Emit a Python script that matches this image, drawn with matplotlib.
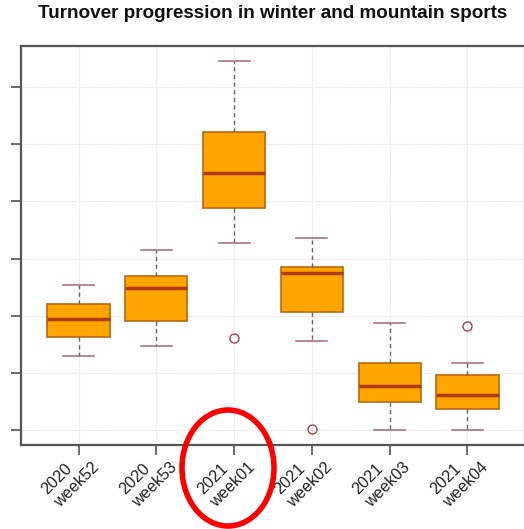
import matplotlib
matplotlib.use("Agg")
import matplotlib.pyplot as plt
from matplotlib.patches import Ellipse

categories = ["2020\nweek52", "2020\nweek53", "2021\nweek01", "2021\nweek02", "2021\nweek03", "2021\nweek04"]
whisker_low = [1.29, 1.47, 3.27, 1.56, 0.01, 0.00]
q1 = [1.63, 1.91, 3.88, 2.06, 0.50, 0.37]
median = [1.94, 2.48, 4.49, 2.75, 0.78, 0.61]
q3 = [2.20, 2.69, 5.22, 2.85, 1.18, 0.97]
whisker_high = [2.54, 3.15, 6.46, 3.36, 1.88, 1.17]
outliers = [[], [], [1.61], [0.02], [], [1.82]]
y_ticks = [0, 1, 2, 3, 4, 5, 6]

plt.rcParams['font.family'] = ['Liberation Sans', 'DejaVu Sans']

fig = plt.figure(figsize=(5.24, 5.29), dpi=100)
ax = fig.add_axes([21/524, 1-445/529, (525-21)/524, (445-46)/529])

stats = []
for i, lab in enumerate(categories):
    stats.append(dict(label=lab, med=median[i], q1=q1[i], q3=q3[i],
                      whislo=whisker_low[i], whishi=whisker_high[i], fliers=outliers[i]))

positions = list(range(1, len(categories) + 1))

# grid first (under boxes)
for p in positions:
    ax.axvline(p, color='#e6e6e6', lw=0.8, linestyle=(0, (1.5, 1.0)), zorder=0)
for t in y_ticks:
    ax.axhline(t, color='#e6e6e6', lw=0.8, linestyle=(0, (1.5, 1.0)), zorder=0)

ax.bxp(stats, positions=positions, widths=0.8, capwidths=0.4, patch_artist=True,
       boxprops=dict(facecolor='#ffa500', edgecolor='#b86a10', lw=1.2),
       medianprops=dict(color='#b03a00', lw=2.5),
       whiskerprops=dict(color='#7a5a66', lw=1.0, linestyle=(0, (3, 2.5))),
       capprops=dict(color='#a06878', lw=1.1),
       flierprops=dict(marker='o', markerfacecolor='none', markeredgecolor='#9a4a4a',
                       markersize=6.5, markeredgewidth=1.0))

lo = min(min(whisker_low), min(min(o) for o in outliers if o))
hi = max(max(whisker_high), max(max(o) for o in outliers if o))
pad = (hi - lo) * 0.04
ax.set_ylim(lo - pad, hi + pad)
ax.set_xlim(0.26, len(categories) + 0.74)

ax.set_yticks(y_ticks)
ax.set_yticklabels([])
ax.set_xticks(positions)
ax.set_xticklabels(categories, rotation=45, ha='right', va='top', rotation_mode='anchor',
                   multialignment='left', fontsize=11.7, color='#222222', linespacing=1.25)
ax.tick_params(axis='both', direction='out', length=7.5, width=1.1, color='#444444')
ax.tick_params(axis='x', pad=-6)
ax.tick_params(axis='y', length=7)
for s in ax.spines.values():
    s.set_color('#555555')
    s.set_linewidth(1.6)

fig.text(273/524, 1-18.5/529, "Turnover progression in winter and mountain sports",
         ha='center', va='baseline', fontsize=13.6, fontweight='bold', color='#111111')

fig.patches.append(Ellipse((228/524, 1-468/529), 92/524, 116/529, transform=fig.transFigure,
                           fill=False, edgecolor='#ff0000', lw=4.0, figure=fig))

fig.savefig("out.png", dpi=100)
